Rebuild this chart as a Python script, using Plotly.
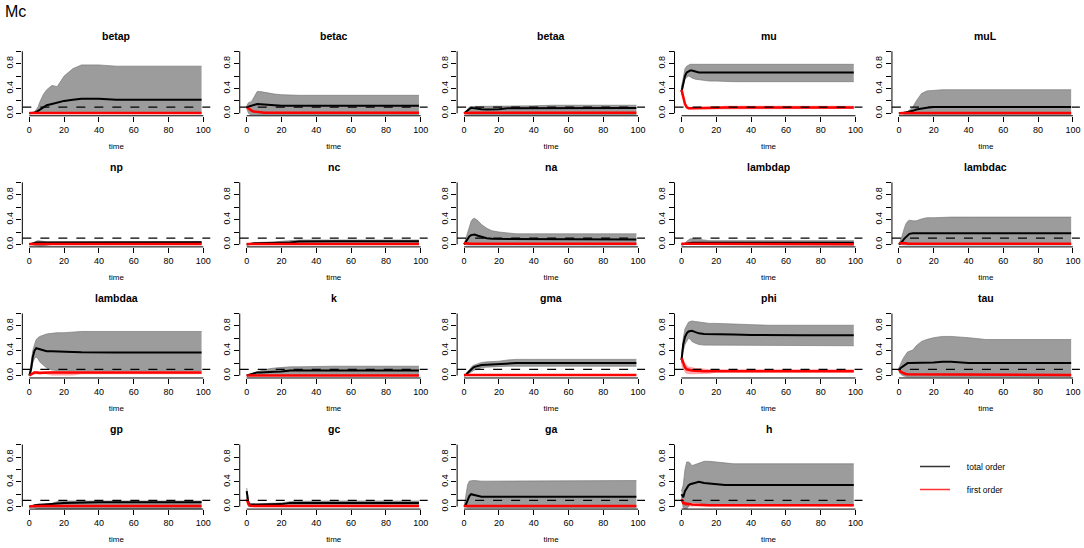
import plotly.graph_objects as go

# ---------------- data ----------------
time = [0, 1, 2, 3, 4, 5, 6, 8, 10, 13, 16, 20, 25, 30, 40, 50, 70, 99]
params = ["betap", "betac", "betaa", "mu", "muL",
          "np", "nc", "na", "lambdap", "lambdac",
          "lambdaa", "k", "gma", "phi", "tau",
          "gp", "gc", "ga", "h"]
threshold = 0.1
x_ticks = [0, 20, 40, 60, 80, 100]
y_ticks = [0.0, 0.2, 0.4, 0.6, 0.8, 1.0]
y_tick_labels = ["0.0", "", "0.4", "", "0.8", ""]
legend_names = ["total order", "first order"]

# to = total order mean, tl/th = total order band; fo = first order mean, fl/fh = first order band
betap_to = [0, 0, 0.005, 0.01, 0.02, 0.04, 0.06, 0.1, 0.13, 0.15, 0.17, 0.2, 0.22, 0.235, 0.235, 0.22, 0.22, 0.22]
betap_tl = [0, 0, 0, 0, 0, 0, 0, 0, 0, 0, 0, 0, 0, 0, 0, 0, 0, 0]
betap_th = [0, 0.01, 0.02, 0.03, 0.06, 0.1, 0.18, 0.3, 0.38, 0.45, 0.43, 0.6, 0.72, 0.78, 0.78, 0.76, 0.76, 0.76]
betap_fo = [0.003, 0.003, 0.003, 0.003, 0.003, 0.003, 0.003, 0.003, 0.003, 0.003, 0.003, 0.003, 0.003, 0.003, 0.003, 0.003, 0.003, 0.003]
betap_fl = [0, 0, 0, 0, 0, 0, 0, 0, 0, 0, 0, 0, 0, 0, 0, 0, 0, 0]
betap_fh = [0.01, 0.01, 0.01, 0.01, 0.01, 0.01, 0.01, 0.01, 0.01, 0.01, 0.01, 0.01, 0.01, 0.01, 0.01, 0.01, 0.01, 0.01]

betac_to = [0.1, 0.11, 0.12, 0.13, 0.14, 0.145, 0.15, 0.145, 0.14, 0.13, 0.125, 0.12, 0.12, 0.12, 0.12, 0.12, 0.12, 0.12]
betac_tl = [0.08, 0, -0.02, -0.02, -0.02, -0.02, -0.02, -0.02, -0.02, -0.02, -0.02, -0.02, -0.02, -0.02, -0.02, -0.02, -0.02, -0.02]
betac_th = [0.12, 0.17, 0.18, 0.2, 0.25, 0.3, 0.35, 0.35, 0.34, 0.32, 0.31, 0.3, 0.29, 0.29, 0.29, 0.29, 0.29, 0.29]
betac_fo = [0.1, 0.08, 0.05, 0.04, 0.03, 0.025, 0.02, 0.015, 0.01, 0.01, 0.01, 0.01, 0.01, 0.01, 0.01, 0.01, 0.01, 0.01]
betac_fl = [0.08, 0.05, 0.03, 0.02, 0.01, 0.01, 0.005, 0, 0, 0, 0, 0, 0, 0, 0, 0, 0, 0]
betac_fh = [0.12, 0.11, 0.08, 0.06, 0.05, 0.04, 0.035, 0.03, 0.025, 0.02, 0.02, 0.02, 0.02, 0.02, 0.02, 0.02, 0.02, 0.02]

betaa_to = [0, 0.02, 0.05, 0.07, 0.09, 0.085, 0.08, 0.07, 0.065, 0.06, 0.06, 0.065, 0.08, 0.08, 0.085, 0.085, 0.085, 0.085]
betaa_tl = [0, -0.01, -0.02, -0.02, -0.02, -0.02, -0.02, -0.02, -0.02, -0.02, -0.02, -0.02, -0.02, -0.02, -0.02, -0.02, -0.02, -0.02]
betaa_th = [0, 0.03, 0.07, 0.1, 0.11, 0.11, 0.11, 0.11, 0.11, 0.11, 0.11, 0.11, 0.12, 0.12, 0.12, 0.13, 0.13, 0.13]
betaa_fo = [0, 0.005, 0.01, 0.01, 0.01, 0.01, 0.01, 0.01, 0.01, 0.01, 0.01, 0.01, 0.01, 0.01, 0.01, 0.01, 0.01, 0.01]
betaa_fl = [0, 0, 0, 0, 0, 0, 0, 0, 0, 0, 0, 0, 0, 0, 0, 0, 0, 0]
betaa_fh = [0, 0.01, 0.02, 0.02, 0.02, 0.02, 0.02, 0.02, 0.02, 0.02, 0.015, 0.015, 0.015, 0.015, 0.015, 0.015, 0.015, 0.015]

mu_to = [0.35, 0.5, 0.6, 0.66, 0.68, 0.69, 0.69, 0.67, 0.66, 0.66, 0.66, 0.66, 0.66, 0.66, 0.66, 0.66, 0.66, 0.66]
mu_tl = [0.3, 0.42, 0.55, 0.58, 0.6, 0.59, 0.57, 0.55, 0.54, 0.53, 0.52, 0.52, 0.51, 0.51, 0.51, 0.51, 0.51, 0.51]
mu_th = [0.42, 0.6, 0.72, 0.76, 0.78, 0.79, 0.79, 0.79, 0.78, 0.78, 0.79, 0.79, 0.79, 0.79, 0.79, 0.79, 0.79, 0.79]
mu_fo = [0.38, 0.25, 0.15, 0.1, 0.08, 0.08, 0.08, 0.08, 0.08, 0.085, 0.09, 0.09, 0.095, 0.095, 0.095, 0.095, 0.095, 0.095]
mu_fl = [0.3, 0.2, 0.12, 0.07, 0.06, 0.06, 0.06, 0.06, 0.06, 0.07, 0.07, 0.07, 0.07, 0.07, 0.07, 0.07, 0.07, 0.07]
mu_fh = [0.5, 0.35, 0.2, 0.13, 0.1, 0.1, 0.1, 0.1, 0.1, 0.11, 0.11, 0.11, 0.12, 0.12, 0.12, 0.12, 0.12, 0.12]

muL_to = [0, 0, 0.01, 0.01, 0.015, 0.02, 0.03, 0.04, 0.06, 0.08, 0.09, 0.1, 0.1, 0.1, 0.1, 0.1, 0.1, 0.1]
muL_tl = [0, 0, -0.01, -0.02, -0.02, -0.02, -0.02, -0.02, -0.02, -0.02, -0.02, -0.02, -0.02, -0.02, -0.02, -0.02, -0.02, -0.02]
muL_th = [0, 0.01, 0.015, 0.02, 0.025, 0.03, 0.05, 0.1, 0.2, 0.32, 0.36, 0.37, 0.38, 0.38, 0.38, 0.38, 0.38, 0.38]
muL_fo = [0, 0.005, 0.005, 0.005, 0.005, 0.005, 0.005, 0.005, 0.005, 0.005, 0.005, 0.005, 0.005, 0.005, 0.005, 0.005, 0.005, 0.005]
muL_fl = [0, 0, 0, 0, 0, 0, 0, 0, 0, 0, 0, 0, 0, 0, 0, 0, 0, 0]
muL_fh = [0.01, 0.01, 0.01, 0.01, 0.01, 0.01, 0.01, 0.01, 0.01, 0.01, 0.01, 0.01, 0.01, 0.01, 0.01, 0.01, 0.01, 0.01]

np_to = [0, 0.01, 0.02, 0.025, 0.03, 0.03, 0.03, 0.03, 0.03, 0.03, 0.03, 0.03, 0.035, 0.035, 0.035, 0.035, 0.035, 0.035]
np_tl = [0, -0.005, -0.01, -0.015, -0.02, -0.025, -0.025, -0.02, -0.01, 0, 0, 0, 0, 0, 0, 0, 0, 0]
np_th = [0, 0.015, 0.03, 0.04, 0.05, 0.06, 0.06, 0.05, 0.04, 0.04, 0.04, 0.04, 0.045, 0.045, 0.045, 0.045, 0.045, 0.045]
np_fo = [0.005, 0.005, 0.005, 0.005, 0.005, 0.005, 0.005, 0.005, 0.005, 0.005, 0.005, 0.005, 0.005, 0.005, 0.005, 0.005, 0.005, 0.005]
np_fl = [0, 0, 0, 0, 0, 0, 0, 0, 0, 0, 0, 0, 0, 0, 0, 0, 0, 0]
np_fh = [0.012, 0.012, 0.012, 0.012, 0.012, 0.012, 0.012, 0.012, 0.012, 0.012, 0.012, 0.012, 0.012, 0.012, 0.012, 0.012, 0.012, 0.012]

nc_to = [0, 0.005, 0.01, 0.02, 0.02, 0.02, 0.02, 0.02, 0.02, 0.02, 0.025, 0.03, 0.03, 0.045, 0.05, 0.05, 0.05, 0.05]
nc_tl = [0, 0, 0, 0, 0, 0, 0, 0, 0, 0, 0, 0, 0, 0, 0, 0, 0, 0]
nc_th = [0, 0.01, 0.02, 0.03, 0.03, 0.03, 0.03, 0.03, 0.03, 0.035, 0.04, 0.05, 0.06, 0.07, 0.07, 0.07, 0.07, 0.07]
nc_fo = [0.005, 0.005, 0.005, 0.005, 0.005, 0.005, 0.005, 0.005, 0.005, 0.005, 0.005, 0.005, 0.005, 0.005, 0.005, 0.005, 0.005, 0.005]
nc_fl = [0, 0, 0, 0, 0, 0, 0, 0, 0, 0, 0, 0, 0, 0, 0, 0, 0, 0]
nc_fh = [0.012, 0.012, 0.012, 0.012, 0.012, 0.012, 0.012, 0.012, 0.012, 0.012, 0.012, 0.012, 0.012, 0.012, 0.012, 0.012, 0.012, 0.012]

na_to = [0, 0.05, 0.1, 0.13, 0.15, 0.16, 0.16, 0.14, 0.12, 0.1, 0.09, 0.09, 0.08, 0.08, 0.08, 0.08, 0.08, 0.08]
na_tl = [0, -0.01, -0.01, -0.01, -0.01, -0.01, -0.01, -0.01, -0.01, -0.01, -0.01, -0.01, -0.01, -0.01, -0.01, -0.01, -0.01, -0.01]
na_th = [0, 0.1, 0.2, 0.3, 0.37, 0.41, 0.42, 0.38, 0.32, 0.26, 0.22, 0.2, 0.18, 0.17, 0.17, 0.17, 0.17, 0.17]
na_fo = [0.02, 0.015, 0.01, 0.01, 0.01, 0.01, 0.01, 0.01, 0.01, 0.01, 0.01, 0.01, 0.01, 0.01, 0.01, 0.01, 0.01, 0.01]
na_fl = [0, 0, 0, 0, 0, 0, 0, 0, 0, 0, 0, 0, 0, 0, 0, 0, 0, 0]
na_fh = [0.025, 0.02, 0.015, 0.015, 0.015, 0.015, 0.015, 0.015, 0.015, 0.015, 0.015, 0.015, 0.015, 0.015, 0.015, 0.015, 0.015, 0.015]

lambdap_to = [0, 0.005, 0.01, 0.02, 0.025, 0.025, 0.025, 0.025, 0.025, 0.025, 0.025, 0.025, 0.025, 0.025, 0.025, 0.025, 0.025, 0.025]
lambdap_tl = [0, 0, -0.005, -0.01, -0.01, -0.01, -0.01, -0.01, -0.01, -0.01, -0.01, -0.01, -0.01, -0.01, -0.01, -0.01, -0.01, -0.01]
lambdap_th = [0, 0.01, 0.02, 0.05, 0.07, 0.09, 0.09, 0.09, 0.08, 0.07, 0.06, 0.06, 0.06, 0.06, 0.06, 0.06, 0.06, 0.06]
lambdap_fo = [0.01, 0.01, 0.005, 0.003, 0.003, 0.003, 0.003, 0.003, 0.003, 0.003, 0.003, 0.003, 0.003, 0.003, 0.003, 0.003, 0.003, 0.003]
lambdap_fl = [0, 0, 0, 0, 0, 0, 0, 0, 0, 0, 0, 0, 0, 0, 0, 0, 0, 0]
lambdap_fh = [0.02, 0.015, 0.01, 0.01, 0.01, 0.01, 0.01, 0.01, 0.01, 0.01, 0.01, 0.01, 0.01, 0.01, 0.01, 0.01, 0.01, 0.01]

lambdac_to = [0, 0.02, 0.05, 0.09, 0.12, 0.15, 0.17, 0.18, 0.18, 0.18, 0.18, 0.18, 0.18, 0.18, 0.18, 0.18, 0.18, 0.18]
lambdac_tl = [0, -0.005, -0.01, -0.01, -0.01, -0.01, -0.01, -0.01, -0.01, -0.01, -0.01, -0.01, -0.01, -0.01, -0.01, -0.01, -0.01, -0.01]
lambdac_th = [0, 0.07, 0.15, 0.25, 0.33, 0.37, 0.39, 0.38, 0.38, 0.41, 0.43, 0.43, 0.44, 0.44, 0.44, 0.44, 0.44, 0.44]
lambdac_fo = [0.02, 0.02, 0.025, 0.03, 0.02, 0.01, 0.01, 0.01, 0.01, 0.01, 0.01, 0.01, 0.01, 0.01, 0.01, 0.01, 0.01, 0.01]
lambdac_fl = [0, 0, 0, 0, 0, 0, 0, 0, 0, 0, 0, 0, 0, 0, 0, 0, 0, 0]
lambdac_fh = [0.03, 0.03, 0.035, 0.04, 0.03, 0.02, 0.02, 0.02, 0.02, 0.02, 0.02, 0.02, 0.02, 0.02, 0.02, 0.02, 0.02, 0.02]

lambdaa_to = [0, 0.1, 0.3, 0.4, 0.44, 0.43, 0.42, 0.4, 0.39, 0.39, 0.385, 0.38, 0.38, 0.375, 0.37, 0.37, 0.37, 0.37]
lambdaa_tl = [0, 0.05, 0.2, 0.28, 0.3, 0.27, 0.22, 0.17, 0.12, 0.09, 0.08, 0.08, 0.08, 0.08, 0.08, 0.08, 0.08, 0.08]
lambdaa_th = [0, 0.25, 0.4, 0.5, 0.58, 0.61, 0.63, 0.65, 0.67, 0.68, 0.69, 0.69, 0.7, 0.71, 0.71, 0.71, 0.71, 0.71]
lambdaa_fo = [0, 0.02, 0.04, 0.05, 0.05, 0.04, 0.04, 0.045, 0.05, 0.05, 0.05, 0.05, 0.05, 0.05, 0.05, 0.05, 0.05, 0.05]
lambdaa_fl = [0, 0, 0.01, 0.02, 0.02, 0.02, 0.02, 0.02, 0.02, 0, 0, 0, 0, 0.02, 0.02, 0.02, 0.02, 0.02]
lambdaa_fh = [0, 0.04, 0.06, 0.07, 0.07, 0.07, 0.07, 0.07, 0.07, 0.07, 0.07, 0.07, 0.07, 0.07, 0.07, 0.07, 0.07, 0.07]

k_to = [0, 0.01, 0.02, 0.03, 0.04, 0.05, 0.05, 0.05, 0.05, 0.05, 0.06, 0.065, 0.08, 0.08, 0.08, 0.08, 0.08, 0.08]
k_tl = [0, 0, 0, 0, 0, 0, 0, 0, 0, 0, 0, 0, 0, 0, 0, 0, 0, 0]
k_th = [0, 0.01, 0.02, 0.04, 0.05, 0.06, 0.06, 0.075, 0.09, 0.11, 0.12, 0.13, 0.14, 0.14, 0.15, 0.15, 0.15, 0.15]
k_fo = [0, 0.002, 0.002, 0.002, 0.002, 0.002, 0.002, 0.002, 0.002, 0.002, 0.002, 0.002, 0.002, 0.002, 0.002, 0.002, 0.002, 0.002]
k_fl = [0, 0, -0.005, -0.01, -0.01, -0.01, -0.005, 0, 0, 0, 0, 0, 0, 0, 0, 0, 0, 0]
k_fh = [0.01, 0.01, 0.01, 0.01, 0.01, 0.01, 0.01, 0.01, 0.01, 0.01, 0.01, 0.01, 0.01, 0.01, 0.01, 0.01, 0.01, 0.01]

gma_to = [0, 0.01, 0.04, 0.07, 0.1, 0.12, 0.14, 0.16, 0.17, 0.175, 0.18, 0.18, 0.19, 0.2, 0.2, 0.2, 0.2, 0.2]
gma_tl = [0, 0, 0.02, 0.04, 0.05, 0.07, 0.09, 0.1, 0.13, 0.135, 0.14, 0.14, 0.15, 0.15, 0.15, 0.15, 0.15, 0.15]
gma_th = [0, 0.02, 0.06, 0.1, 0.14, 0.16, 0.17, 0.19, 0.21, 0.22, 0.22, 0.23, 0.25, 0.26, 0.26, 0.26, 0.26, 0.26]
gma_fo = [0.01, 0.01, 0.01, 0.01, 0.01, 0.01, 0.01, 0.01, 0.01, 0.01, 0.01, 0.01, 0.01, 0.01, 0.01, 0.01, 0.01, 0.01]
gma_fl = [0, 0, 0, 0, 0, 0, 0, 0, 0, 0, 0, 0, 0, 0, 0, 0, 0, 0]
gma_fh = [0.015, 0.015, 0.015, 0.015, 0.015, 0.015, 0.015, 0.015, 0.015, 0.015, 0.015, 0.015, 0.015, 0.015, 0.015, 0.015, 0.015, 0.015]

phi_to = [0.25, 0.5, 0.62, 0.68, 0.71, 0.72, 0.72, 0.7, 0.68, 0.67, 0.67, 0.665, 0.66, 0.66, 0.655, 0.65, 0.65, 0.65]
phi_tl = [0.2, 0.4, 0.5, 0.56, 0.6, 0.59, 0.55, 0.52, 0.5, 0.49, 0.49, 0.48, 0.48, 0.48, 0.48, 0.48, 0.48, 0.48]
phi_th = [0.3, 0.6, 0.75, 0.82, 0.86, 0.87, 0.88, 0.87, 0.86, 0.85, 0.84, 0.84, 0.83, 0.83, 0.82, 0.81, 0.81, 0.81]
phi_fo = [0.28, 0.2, 0.13, 0.1, 0.09, 0.08, 0.08, 0.075, 0.07, 0.07, 0.07, 0.07, 0.07, 0.07, 0.07, 0.07, 0.07, 0.07]
phi_fl = [0.15, 0.1, 0.05, 0.03, 0.02, 0.02, 0.02, 0.02, 0.02, 0.025, 0.03, 0.05, 0.05, 0.05, 0.05, 0.05, 0.05, 0.05]
phi_fh = [0.3, 0.28, 0.2, 0.16, 0.14, 0.14, 0.13, 0.12, 0.12, 0.11, 0.1, 0.1, 0.1, 0.1, 0.1, 0.1, 0.1, 0.1]

tau_to = [0.1, 0.12, 0.15, 0.17, 0.19, 0.2, 0.2, 0.2, 0.2, 0.2, 0.2, 0.21, 0.22, 0.22, 0.2, 0.2, 0.2, 0.2]
tau_tl = [0.05, 0.02, 0, -0.01, -0.02, -0.02, -0.02, -0.02, -0.02, -0.02, -0.02, -0.02, -0.02, -0.02, -0.02, -0.02, -0.02, -0.02]
tau_th = [0.12, 0.2, 0.25, 0.3, 0.35, 0.38, 0.39, 0.41, 0.48, 0.55, 0.58, 0.61, 0.63, 0.63, 0.61, 0.58, 0.58, 0.58]
tau_fo = [0.1, 0.06, 0.045, 0.03, 0.025, 0.02, 0.02, 0.015, 0.015, 0.01, 0.01, 0.01, 0.01, 0.01, 0.01, 0.01, 0.01, 0.01]
tau_fl = [0.08, 0.04, 0.02, 0.01, 0, 0, 0, 0, 0, 0, 0, 0, 0, 0, 0, 0, 0, 0]
tau_fh = [0.12, 0.08, 0.06, 0.05, 0.04, 0.035, 0.03, 0.03, 0.025, 0.02, 0.02, 0.02, 0.02, 0.02, 0.02, 0.02, 0.02, 0.02]

gp_to = [0, 0.01, 0.015, 0.02, 0.025, 0.03, 0.03, 0.03, 0.033, 0.035, 0.05, 0.06, 0.065, 0.07, 0.07, 0.07, 0.07, 0.07]
gp_tl = [0, 0, -0.01, -0.02, -0.03, -0.035, -0.04, -0.04, -0.04, -0.04, -0.04, -0.04, -0.04, -0.04, -0.04, -0.04, -0.04, -0.04]
gp_th = [0, 0.015, 0.02, 0.03, 0.035, 0.04, 0.045, 0.045, 0.05, 0.05, 0.08, 0.09, 0.09, 0.09, 0.09, 0.09, 0.09, 0.09]
gp_fo = [0, 0.005, 0.01, 0.01, 0.01, 0.01, 0.01, 0.01, 0.01, 0.01, 0.01, 0.01, 0.01, 0.01, 0.01, 0.01, 0.01, 0.01]
gp_fl = [0, 0, 0, 0, 0, 0, 0, 0, 0, 0, 0, 0, 0, 0, 0, 0, 0, 0]
gp_fh = [0.01, 0.015, 0.015, 0.015, 0.015, 0.015, 0.015, 0.015, 0.015, 0.015, 0.015, 0.015, 0.015, 0.015, 0.015, 0.015, 0.015, 0.015]

gc_to = [0.25, 0.05, 0.03, 0.03, 0.03, 0.03, 0.03, 0.03, 0.03, 0.035, 0.035, 0.04, 0.06, 0.06, 0.06, 0.06, 0.06, 0.06]
gc_tl = [0.15, 0, 0, 0, 0, 0, 0, 0, 0, 0, 0, 0, 0, 0, 0, 0, 0, 0]
gc_th = [0.3, 0.1, 0.05, 0.045, 0.045, 0.045, 0.045, 0.045, 0.05, 0.05, 0.055, 0.06, 0.08, 0.085, 0.09, 0.09, 0.09, 0.09]
gc_fo = [0.12, 0.04, 0.015, 0.01, 0.01, 0.01, 0.01, 0.01, 0.01, 0.01, 0.01, 0.01, 0.01, 0.01, 0.01, 0.01, 0.01, 0.01]
gc_fl = [0.08, 0.02, 0, 0, 0, 0, 0, 0, 0, 0, 0, 0, 0, 0, 0, 0, 0, 0]
gc_fh = [0.15, 0.06, 0.03, 0.02, 0.02, 0.02, 0.02, 0.02, 0.02, 0.02, 0.02, 0.02, 0.02, 0.02, 0.02, 0.02, 0.02, 0.02]

ga_to = [0, 0.03, 0.1, 0.17, 0.2, 0.195, 0.19, 0.17, 0.16, 0.16, 0.16, 0.16, 0.16, 0.16, 0.16, 0.16, 0.16, 0.16]
ga_tl = [0, -0.01, -0.02, -0.02, -0.02, -0.02, -0.02, -0.02, -0.02, -0.02, -0.02, -0.02, -0.02, -0.02, -0.02, -0.02, -0.02, -0.02]
ga_th = [0, 0.15, 0.35, 0.41, 0.42, 0.42, 0.42, 0.41, 0.41, 0.41, 0.41, 0.41, 0.42, 0.42, 0.42, 0.42, 0.42, 0.42]
ga_fo = [0.01, 0.01, 0.01, 0.01, 0.01, 0.01, 0.01, 0.01, 0.01, 0.01, 0.01, 0.01, 0.01, 0.01, 0.01, 0.01, 0.01, 0.01]
ga_fl = [0, 0, 0, 0, 0, 0, 0, 0, 0, 0, 0, 0, 0, 0, 0, 0, 0, 0]
ga_fh = [0.015, 0.015, 0.015, 0.015, 0.015, 0.015, 0.015, 0.015, 0.015, 0.015, 0.015, 0.015, 0.015, 0.015, 0.015, 0.015, 0.015, 0.015]

h_to = [0.2, 0.15, 0.25, 0.3, 0.34, 0.36, 0.37, 0.39, 0.4, 0.38, 0.37, 0.36, 0.35, 0.35, 0.35, 0.35, 0.35, 0.35]
h_tl = [0.15, -0.02, -0.05, -0.04, 0, 0.05, 0.07, 0.07, 0.06, 0.04, 0.03, 0.03, 0.03, 0.03, 0.03, 0.03, 0.03, 0.03]
h_th = [0.25, 0.35, 0.6, 0.72, 0.72, 0.7, 0.66, 0.68, 0.71, 0.73, 0.73, 0.72, 0.7, 0.69, 0.69, 0.69, 0.69, 0.69]
h_fo = [0.12, 0.06, 0.05, 0.05, 0.04, 0.04, 0.035, 0.03, 0.03, 0.025, 0.02, 0.02, 0.02, 0.02, 0.02, 0.02, 0.02, 0.02]
h_fl = [0.08, 0.03, 0.01, 0, 0, 0, 0, 0, 0, 0, 0, 0, 0, 0, 0, 0, 0, 0]
h_fh = [0.15, 0.1, 0.08, 0.07, 0.06, 0.045, 0.045, 0.045, 0.04, 0.035, 0.03, 0.03, 0.03, 0.03, 0.03, 0.03, 0.03, 0.03]

g = globals()
table = {p: tuple(g[f"{p}_{s}"] for s in ("to", "tl", "th", "fo", "fl", "fh")) for p in params}

# ---------------- layout geometry (pixels) ----------------
W, H = 1084, 548
COL_ZERO0, COL_STEP, PX_X = 29.3, 217.4, 1.74
ROW_ZERO0, ROW_STEP, PX_Y = 113.3, 131.1, 62.0
X_RANGE = [-4, 104]
Y_RANGE = [-0.04, 1.04]

FONT = "Liberation Sans, Arial, sans-serif"
GRAY_FILL = "#9c9c9c"
GRAY_EDGE = "#7a7a7a"
RED = "#ff0000"
RED_FILL = "rgba(255,0,0,0.35)"

fig = go.Figure()
shapes = []
annotations = []
layout_axes = {}

for i, p in enumerate(params):
    r, c = divmod(i, 5)
    n = i + 1
    xs = "" if n == 1 else str(n)
    xz = COL_ZERO0 + c * COL_STEP
    yz = ROW_ZERO0 + r * ROW_STEP
    xl = xz + X_RANGE[0] * PX_X
    xr = xz + X_RANGE[1] * PX_X
    yt = yz - Y_RANGE[1] * PX_Y
    yb = yz - Y_RANGE[0] * PX_Y
    xdom = [xl / W, xr / W]
    ydom = [1 - yb / H, 1 - yt / H]

    to, tl, th, fo, fl, fh = table[p]
    xa, ya = "x" + xs, "y" + xs
    common = dict(x=time, xaxis=xa, yaxis=ya, showlegend=False, hoverinfo="skip", mode="lines")
    fig.add_trace(go.Scatter(y=tl, line=dict(color=GRAY_EDGE, width=0.7), **common))
    fig.add_trace(go.Scatter(y=th, line=dict(color=GRAY_EDGE, width=0.7), fill="tonexty",
                             fillcolor=GRAY_FILL, **common))
    fig.add_trace(go.Scatter(y=fl, line=dict(color="rgba(0,0,0,0)", width=0), **common))
    fig.add_trace(go.Scatter(y=fh, line=dict(color="rgba(0,0,0,0)", width=0), fill="tonexty",
                             fillcolor=RED_FILL, **common))
    fig.add_trace(go.Scatter(y=to, line=dict(color="black", width=2), **common))
    fig.add_trace(go.Scatter(y=fo, line=dict(color=RED, width=2.5), **common))

    layout_axes["xaxis" + xs] = dict(
        domain=xdom, anchor=ya, range=X_RANGE, tickvals=x_ticks, ticks="outside", ticklen=5,
        tickwidth=1, tickcolor="black", showline=False, showgrid=False, zeroline=False,
        tickfont=dict(size=9, color="black", family=FONT),
        title=dict(text="time", font=dict(size=8, color="black", family=FONT), standoff=9),
        fixedrange=True, automargin=False)
    layout_axes["yaxis" + xs] = dict(
        domain=ydom, anchor=xa, range=Y_RANGE, tickvals=y_ticks, ticktext=y_tick_labels,
        tickangle=-90, ticks="outside", ticklen=5, tickwidth=1, tickcolor="black",
        showline=False, showgrid=False, zeroline=False,
        tickfont=dict(size=9, color="black", family=FONT), fixedrange=True, automargin=False)

    # R-style axis lines spanning first to last tick
    shapes.append(dict(type="line", xref=xa + " domain", yref=ya, x0=0, x1=0,
                       y0=y_ticks[0], y1=y_ticks[-1], line=dict(color="black", width=1)))
    shapes.append(dict(type="line", xref=xa, yref=ya + " domain", x0=x_ticks[0], x1=x_ticks[-1],
                       y0=0, y1=0, line=dict(color="black", width=1)))
    # threshold line
    shapes.append(dict(type="line", xref=xa + " domain", yref=ya, x0=0, x1=1,
                       y0=threshold, y1=threshold, line=dict(color="black", width=1.2, dash="dash")))
    # panel title
    annotations.append(dict(text="<b>" + p + "</b>", xref="paper", yref="paper",
                            x=(xl + xr) / 2 / W, y=1 - (yt - 13) / H, xanchor="center",
                            yanchor="middle", showarrow=False,
                            font=dict(size=10.5, color="black", family=FONT)))

# legend entries
pad = "\u00a0" * 5
fig.add_trace(go.Scatter(x=[None], y=[None], mode="lines", name=pad + legend_names[0],
                         line=dict(color="#333333", width=1.5), legendgroup="a"))
fig.add_trace(go.Scatter(x=[None], y=[None], mode="lines", name=pad + legend_names[1],
                         line=dict(color="#ff3333", width=1.5), legendgroup="b"))

annotations.append(dict(text="Mc", xref="paper", yref="paper", x=3 / W, y=1 - 1 / H,
                        xanchor="left", yanchor="top", showarrow=False,
                        font=dict(size=16, color="black", family=FONT)))

fig.update_layout(
    width=W, height=H, margin=dict(l=0, r=0, t=0, b=0),
    paper_bgcolor="white", plot_bgcolor="white",
    font=dict(family=FONT, color="black"),
    shapes=shapes, annotations=annotations,
    showlegend=True,
    legend=dict(x=915 / W, y=1 - 452 / H, xanchor="left", yanchor="top",
                bgcolor="rgba(0,0,0,0)", borderwidth=0, traceorder="grouped",
                tracegroupgap=4, font=dict(size=8.5, color="black", family=FONT),
                itemwidth=30),
    **layout_axes,
)

fig.write_html("out.html", config={"displayModeBar": False},
               post_script="document.body.style.margin='0';document.body.style.overflow='hidden';")
